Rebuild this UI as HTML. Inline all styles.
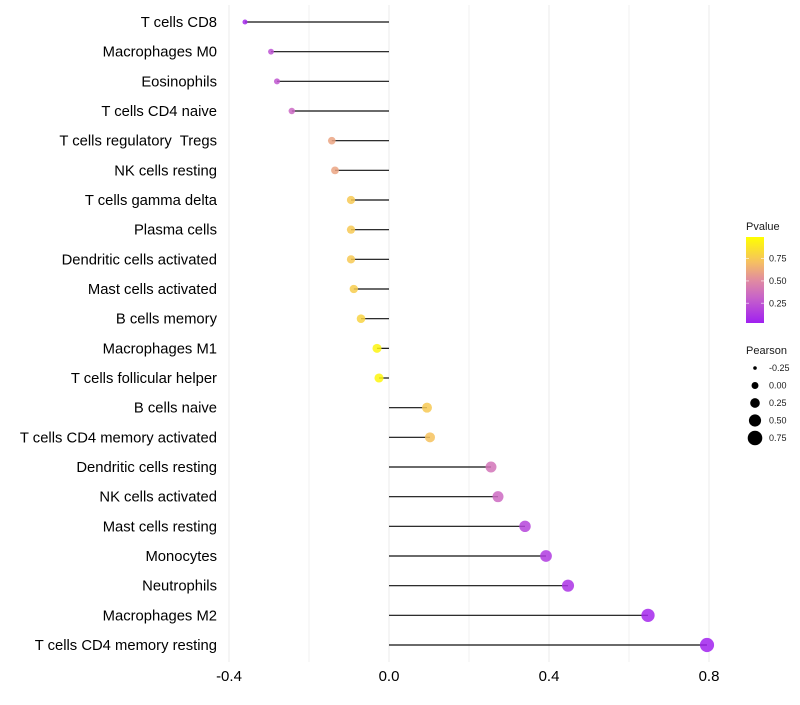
<!DOCTYPE html>
<html><head><meta charset="utf-8"><style>
body{margin:0;background:#fff;font-family:"Liberation Sans",sans-serif}
text{white-space:pre}
</style></head><body>
<svg id="chart" width="800" height="700" xmlns="http://www.w3.org/2000/svg" font-family="Liberation Sans, sans-serif"></svg>
<script>
const categories=["T cells CD8","Macrophages M0","Eosinophils","T cells CD4 naive","T cells regulatory  Tregs","NK cells resting","T cells gamma delta","Plasma cells","Dendritic cells activated","Mast cells activated","B cells memory","Macrophages M1","T cells follicular helper","B cells naive","T cells CD4 memory activated","Dendritic cells resting","NK cells activated","Mast cells resting","Monocytes","Neutrophils","Macrophages M2","T cells CD4 memory resting"];
const pearson=[-0.36,-0.295,-0.28,-0.243,-0.143,-0.135,-0.095,-0.095,-0.095,-0.088,-0.07,-0.03,-0.025,0.095,0.1025,0.255,0.2725,0.34,0.3925,0.4475,0.6475,0.795];
const pvalues=[0.04,0.22,0.24,0.32,0.6,0.6,0.75,0.75,0.75,0.77,0.8,0.95,0.96,0.75,0.72,0.38,0.33,0.16,0.12,0.08,0.03,0.01];
const xTicks=[-0.4,0.0,0.4,0.8];
const xTickLabels=["-0.4","0.0","0.4","0.8"];
const minorTicks=[-0.2,0.2,0.6];
const legendSizes=[-0.25,0.00,0.25,0.50,0.75];
const legendSizeLabels=["-0.25","0.00","0.25","0.50","0.75"];
const legendColorTicks=[0.25,0.5,0.75];

const svg=document.getElementById('chart');
const NS='http://www.w3.org/2000/svg';
function mk(t,a,p){const e=document.createElementNS(NS,t);for(const k in a)e.setAttribute(k,a[k]);(p||svg).appendChild(e);return e;}
const xs=v=>389+v*400;
const ys=i=>22+i*(623/21);
const rs=p=>p<0?Math.max(1.8,4.7+6*p):4.7+3*p;
const rl=p=>Math.sqrt(12+40*p+20*p*p);
const stops=[[0,[160,32,240]],[0.3,[200,100,200]],[0.5,[225,140,160]],[0.7,[245,190,100]],[1,[255,255,0]]];
function col(p){for(let i=1;i<stops.length;i++){if(p<=stops[i][0]){const a=stops[i-1],b=stops[i],t=(p-a[0])/(b[0]-a[0]);return 'rgb('+a[1].map((c,j)=>Math.round(c+(b[1][j]-c)*t)).join(',')+')';}}return 'rgb(255,255,0)';}

const grid=mk('g',{});


minorTicks.forEach(v=>{const l=mk('line',{x1:xs(v),x2:xs(v),y1:5,y2:662,stroke:'#f2f2f2','stroke-width':1},grid);});
xTicks.forEach((v)=>{const l=mk('line',{x1:xs(v),x2:xs(v),y1:5,y2:662,stroke:'#ebebeb','stroke-width':1},grid);});

categories.forEach((c,i)=>{
 const y=ys(i);
 const lab=mk('text',{x:217,y:y+5,'text-anchor':'end','font-size':14.8,fill:'#000'});lab.textContent=c;
 
 
 const ln=mk('line',{x1:xs(0),x2:xs(pearson[i]),y1:y,y2:y,stroke:'#111','stroke-width':1.2});
 
 
 const pt=mk('circle',{cx:xs(pearson[i]),cy:y,r:rs(pearson[i]),fill:col(pvalues[i]),'fill-opacity':0.85});
 
 
});
xTicks.forEach((v,i)=>{const t=mk('text',{x:xs(v),y:681,'text-anchor':'middle','font-size':15,fill:'#000'});t.textContent=xTickLabels[i];
 
 });

const defs=mk('defs',{});
const g=mk('linearGradient',{id:'pg',x1:0,y1:1,x2:0,y2:0},defs);
stops.forEach(s=>mk('stop',{offset:s[0],'stop-color':'rgb('+s[1].join(',')+')'},g));
const lt=mk('text',{x:746,y:230,'font-size':11,fill:'#1a1a1a'});lt.textContent='Pvalue';


const cy=v=>323-(v-0.03)*(86/0.96);
const bar=mk('rect',{x:746,y:cy(0.99),width:18,height:cy(0.03)-cy(0.99),fill:'url(#pg)'});


legendColorTicks.forEach(v=>{mk('line',{x1:746,x2:749,y1:cy(v),y2:cy(v),stroke:'#fff','stroke-opacity':0.6});mk('line',{x1:761,x2:764,y1:cy(v),y2:cy(v),stroke:'#fff','stroke-opacity':0.6});
 const t=mk('text',{x:769,y:cy(v)+3,'font-size':9,fill:'#1a1a1a'});t.textContent=v.toFixed(2);
 
 });
const st=mk('text',{x:746,y:354,'font-size':11,fill:'#1a1a1a'});st.textContent='Pearson';


legendSizes.forEach((v,i)=>{const y=368+i*17.5;
 const c=mk('circle',{cx:755,cy:y,r:rl(v),fill:'#000'});
 
 
 const t=mk('text',{x:769,y:y+3,'font-size':9,fill:'#1a1a1a'});t.textContent=legendSizeLabels[i];
 
 });
</script>
</body></html>
